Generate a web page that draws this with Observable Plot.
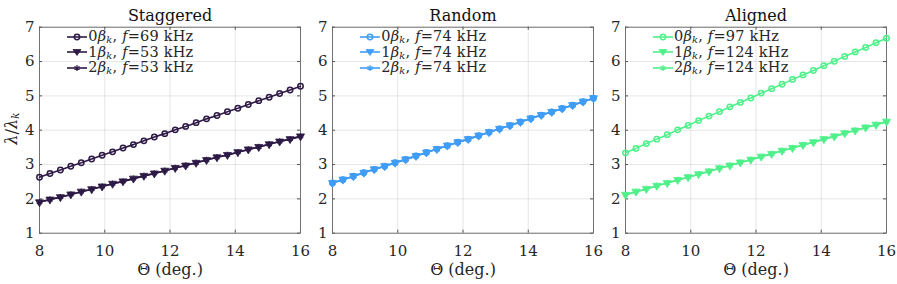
<!DOCTYPE html>
<html><head><meta charset="utf-8">
<script src="https://cdn.jsdelivr.net/npm/d3@7"></script>
<script src="https://cdn.jsdelivr.net/npm/@observablehq/plot@0.6"></script>
<style>
body{margin:0;background:#fff;}
#root{position:relative;width:897px;height:284px;font-family:"DejaVu Serif","Liberation Serif",serif;color:#262626;overflow:hidden;}
.panel{position:absolute;top:0;}
.legend{position:absolute;font-size:14.5px;line-height:15.5px;white-space:nowrap;letter-spacing:0.2px;}
.legend .row{display:flex;align-items:center;height:15.5px;}
.legend svg{margin-right:1px;flex:none;}
.ylab{position:absolute;left:-17px;top:119px;width:56px;text-align:center;font-size:16px;transform:rotate(-90deg);white-space:nowrap;}
sub{font-size:0.68em;vertical-align:-0.2em;line-height:0;}
</style></head><body><div id="root"></div><script>
// ---- data ----
const theta = [8,8.32,8.64,8.96,9.28,9.6,9.92,10.24,10.56,10.88,11.2,11.52,11.84,12.16,12.48,12.8,13.12,13.44,13.76,14.08,14.4,14.72,15.04,15.36,15.68,16];
const stag0 = [2.63,2.74,2.84,2.95,3.05,3.16,3.27,3.37,3.48,3.58,3.69,3.80,3.90,4.01,4.11,4.22,4.33,4.43,4.54,4.64,4.75,4.86,4.96,5.07,5.17,5.28];
const stag1 = [1.90,1.98,2.05,2.13,2.21,2.28,2.36,2.44,2.51,2.59,2.67,2.74,2.82,2.90,2.97,3.05,3.13,3.21,3.28,3.36,3.44,3.51,3.59,3.67,3.74,3.82];
const stag2 = [1.90,1.98,2.05,2.13,2.21,2.28,2.36,2.44,2.51,2.59,2.67,2.74,2.82,2.90,2.97,3.05,3.13,3.21,3.28,3.36,3.44,3.51,3.59,3.67,3.74,3.82];
const rand0 = [2.46,2.56,2.66,2.76,2.86,2.95,3.05,3.15,3.25,3.35,3.45,3.55,3.65,3.74,3.84,3.94,4.04,4.14,4.24,4.34,4.44,4.53,4.63,4.73,4.83,4.93];
const rand1 = [2.46,2.56,2.66,2.76,2.86,2.95,3.05,3.15,3.25,3.35,3.45,3.55,3.65,3.74,3.84,3.94,4.04,4.14,4.24,4.34,4.44,4.53,4.63,4.73,4.83,4.93];
const rand2 = [2.46,2.56,2.66,2.76,2.86,2.95,3.05,3.15,3.25,3.35,3.45,3.55,3.65,3.74,3.84,3.94,4.04,4.14,4.24,4.34,4.44,4.53,4.63,4.73,4.83,4.93];
const align0 = [3.34,3.47,3.61,3.74,3.87,4.01,4.14,4.28,4.41,4.54,4.68,4.81,4.94,5.08,5.21,5.34,5.48,5.61,5.74,5.88,6.01,6.15,6.28,6.41,6.55,6.68];
const align1 = [2.12,2.21,2.29,2.38,2.46,2.55,2.63,2.72,2.80,2.89,2.97,3.06,3.14,3.23,3.31,3.40,3.48,3.57,3.65,3.74,3.82,3.91,3.99,4.08,4.16,4.25];
const align2 = [2.12,2.21,2.29,2.38,2.46,2.55,2.63,2.72,2.80,2.89,2.97,3.06,3.14,3.23,3.31,3.40,3.48,3.57,3.65,3.74,3.82,3.91,3.99,4.08,4.16,4.25];
const panelTitles = ["Staggered","Random","Aligned"];
const freqStag = [69,53,53];
const freqRand = [74,74,74];
const freqAlign = [97,124,124];
const modeLabels = ["0","1","2"];
const xTicks = [8,10,12,14,16];
const yTicks = [1,2,3,4,5,6,7];
const xLabel = "Θ (deg.)";

// ---- styling ----
const FONT = "'DejaVu Serif', 'Liberation Serif', serif";
const colors = ["#2e1a46","#409df5","#4ff08a"];
const FW = 261, ML = 36, MR = 8, MT = 26.7, MB = 51.3, H = 284;
const frameH = H - MT - MB;
const frameLefts = [39.3, 332.3, 625];

const triDown = {draw(ctx, size){ const r = Math.sqrt(size/Math.PI); ctx.moveTo(-r*1.3,-r*0.8); ctx.lineTo(r*1.3,-r*0.8); ctx.lineTo(0,r*1.45); ctx.closePath(); }};

const panels = [
  {title: panelTitles[0], series:[stag0,stag1,stag2], freqs:freqStag, color:colors[0]},
  {title: panelTitles[1], series:[rand0,rand1,rand2], freqs:freqRand, color:colors[1]},
  {title: panelTitles[2], series:[align0,align1,align2], freqs:freqAlign, color:colors[2]}
];

const root = document.getElementById("root");

panels.forEach((p, pi) => {
  const rows = [];
  p.series.forEach((ys, si) => ys.forEach((y, i) => rows.push({s: si, x: theta[i], y})));
  const color = p.color;
  const sData = s => rows.filter(d => d.s === s);
  const marks = [
    Plot.gridX(xTicks, {stroke:"#000", strokeOpacity:0.1}),
    Plot.gridY(yTicks, {stroke:"#000", strokeOpacity:0.1}),
    Plot.axisX(xTicks, {tickSize:0, tickPadding:12, label:null, fontSize:15, fontFamily:FONT}),
    Plot.axisY(yTicks, {tickSize:0, tickPadding:5, label:null, fontSize:15, fontFamily:FONT}),
    Plot.ruleX(xTicks, {stroke:"#555", insetTop: frameH-3}),
    Plot.ruleX(xTicks, {stroke:"#555", insetBottom: frameH-3}),
    Plot.ruleY(yTicks, {stroke:"#555", insetRight: FW-3}),
    Plot.ruleY(yTicks, {stroke:"#555", insetLeft: FW-3}),
    Plot.frame({stroke:"#666", strokeWidth:0.9}),
    // series 0
    Plot.line(sData(0), {x:"x", y:"y", stroke:color, strokeWidth:1.6}),
    Plot.dot(sData(0), {x:"x", y:"y", stroke:color, fill:"none", r:2.7, strokeWidth:1.5}),
    // series 1
    Plot.line(sData(1), {x:"x", y:"y", stroke:color, strokeWidth:1.6}),
    Plot.dot(sData(1), {x:"x", y:"y", fill:color, stroke:color, strokeWidth:0.8, r:3.1, symbol:triDown}),
    // series 2
    Plot.line(sData(2), {x:"x", y:"y", stroke:color, strokeWidth:1.6}),
    Plot.dot(sData(2), {x:"x", y:"y", stroke:color, fill:"none", r:3, symbol:"asterisk", strokeWidth:1.2}),
    Plot.text([p.title], {frameAnchor:"top", dy:-18, fontSize:16, fill:"#111", fontFamily:FONT}),
    Plot.text([xLabel], {frameAnchor:"bottom", dy:42, fontSize:16, fill:"#262626", fontFamily:FONT})
  ];
  const chart = Plot.plot({
    width: ML+FW+MR, height: H,
    marginLeft: ML, marginRight: MR, marginTop: MT, marginBottom: MB,
    x: {domain:[8,16]}, y: {domain:[1,7]},
    style: {fontFamily:FONT, color:"#262626", background:"transparent", overflow:"visible"},
    marks
  });
  chart.classList.add("panel");
  chart.style.left = (frameLefts[pi]-ML) + "px";
  root.appendChild(chart);

  // legend
  const lg = document.createElement("div");
  lg.className = "legend";
  lg.style.left = (frameLefts[pi]+28) + "px";
  lg.style.top = "29px";
  p.freqs.forEach((f, si) => {
    const row = document.createElement("div");
    row.className = "row";
    let sym;
    if (si === 0) sym = `<circle cx="10" cy="6" r="2.7" fill="none" stroke="${color}" stroke-width="1.5"/>`;
    else if (si === 1) sym = `<path d="M6,3.5 L14,3.5 L10,9.5 Z" fill="${color}" stroke="${color}" stroke-width="0.8"/>`;
    else sym = `<path d="M10,3 L10,9 M7.4,4.5 L12.6,7.5 M7.4,7.5 L12.6,4.5" stroke="${color}" stroke-width="1.2"/>`;
    row.innerHTML = `<svg width="20" height="12"><line x1="0" y1="6" x2="20" y2="6" stroke="${color}" stroke-width="1.6"/>${sym}</svg>` +
      `<span>${modeLabels[si]}<i>β</i><sub><i>k</i></sub>, <i>f</i>=${f} kHz</span>`;
    lg.appendChild(row);
  });
  root.appendChild(lg);
});

const yl = document.createElement("div");
yl.className = "ylab";
yl.innerHTML = "<i>λ</i>/<i>λ</i><sub><i>k</i></sub>";
root.appendChild(yl);
</script></body></html>
